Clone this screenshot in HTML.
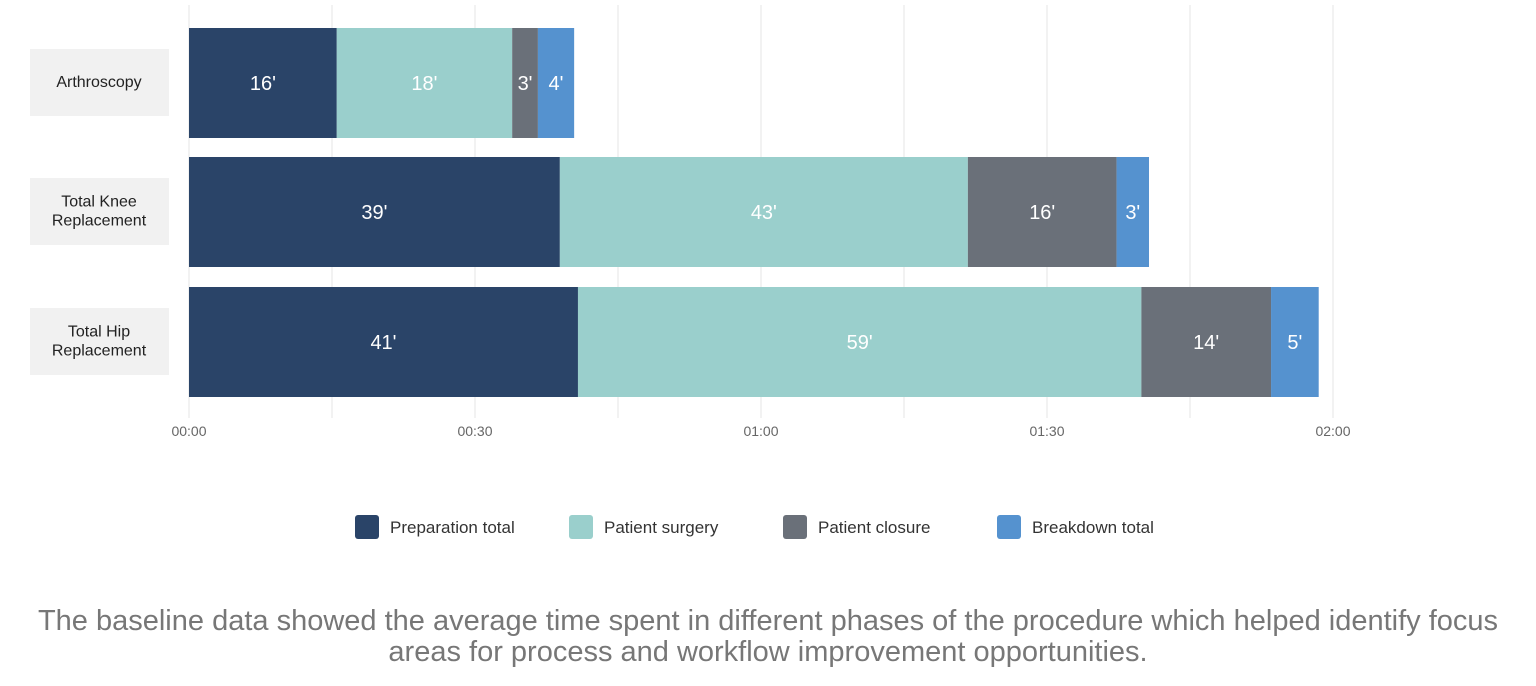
<!DOCTYPE html>
<html><head><meta charset="utf-8"><style>
body{margin:0;width:1536px;height:686px;background:#fff;overflow:hidden;font-family:"Liberation Sans",sans-serif}
svg{position:absolute;left:0;top:0}
.cap{position:absolute;left:0;top:606px;width:1536px;text-align:center;color:#777;font-size:29px;line-height:31px}
</style></head><body>
<svg id="c" width="1536" height="600"></svg>
<div class="cap">The baseline data showed the average time spent in different phases of the procedure which helped identify focus<br>areas for process and workflow improvement opportunities.</div>
<script>
const categories=[["Arthroscopy"],["Total Knee","Replacement"],["Total Hip","Replacement"]];
const seriesNames=["Preparation total","Patient surgery","Patient closure","Breakdown total"];
const prep=[15.5,38.9,40.8];
const surgery=[18.4,42.8,59.1];
const closure=[2.7,15.6,13.6];
const breakdown=[3.8,3.4,5.0];
const tickLabels=["00:00","00:30","01:00","01:30","02:00"];
const tickValues=[0,30,60,90,120];
const colors=["#2a4468","#9acfcc","#6a7079","#5592cf"];
const series=[prep,surgery,closure,breakdown];
const svg=document.getElementById('c');const NS="http://www.w3.org/2000/svg";
function mk(t,a){const e=document.createElementNS(NS,t);for(const k in a)e.setAttribute(k,a[k]);svg.appendChild(e);return e;}
const x0=189,x1=1333,xmax=120;const X=v=>x0+(x1-x0)*v/xmax;
const barTop=[28,157,287],barH=110;
for(let v=0;v<=120;v+=15){const g=mk('line',{x1:X(v),x2:X(v),y1:5,y2:418,stroke:'#e4e4e4','stroke-width':1});
}
tickValues.forEach((v,i)=>{const t=mk('text',{x:X(v),y:436,'text-anchor':'middle','font-size':14,fill:'#666'});t.textContent=tickLabels[i];
});
categories.forEach((c,i)=>{const y=barTop[i];
const b=mk('rect',{x:30,y:y+21,width:139,height:67,fill:'#f1f1f1'});
c.forEach((l,j)=>{const t=mk('text',{x:99,y:y+59+(j-(c.length-1)/2)*19,'text-anchor':'middle','font-size':16,fill:'#222'});t.textContent=l;
});
let acc=0;series.forEach((s,k)=>{const v=s[i];
const r=mk('rect',{x:X(acc),y:y,width:X(acc+v)-X(acc),height:barH,fill:colors[k]});

const t=mk('text',{x:(X(acc)+X(acc+v))/2,y:y+62,'text-anchor':'middle','font-size':20,fill:'#fff'});t.textContent=Math.round(v)+"'";

acc+=v;});});
const lx=[355,569,783,997];
seriesNames.forEach((n,k)=>{const r=mk('rect',{x:lx[k],y:515,width:24,height:24,rx:3,fill:colors[k]});

const t=mk('text',{x:lx[k]+35,y:533,'font-size':17,fill:'#333'});t.textContent=n;
});
</script>
</body></html>
